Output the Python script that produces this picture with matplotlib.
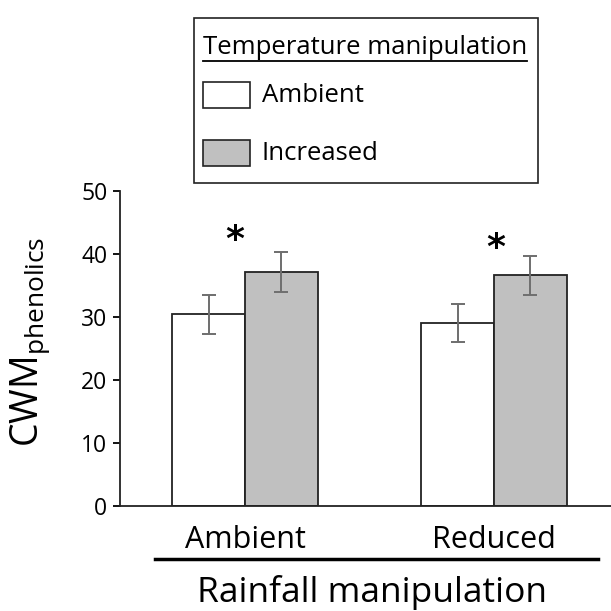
import matplotlib
matplotlib.use("Agg")
import matplotlib.pyplot as plt
from matplotlib.patches import Rectangle
import numpy as np

plt.rcParams['font.family'] = ['Open Sans', 'DejaVu Sans']
plt.rcParams['mathtext.fontset'] = 'custom'
plt.rcParams['mathtext.rm'] = 'Open Sans'
plt.rcParams['mathtext.it'] = 'Open Sans'

rain_groups = ["Ambient", "Reduced"]
temp_series = ["Ambient", "Increased"]
ambient_temp_vals = [30.4, 29.0]
ambient_temp_err = [3.1, 3.0]
increased_temp_vals = [37.1, 36.6]
increased_temp_err = [3.15, 3.15]
significant = [True, True]
yticks = [0, 10, 20, 30, 40, 50]

W = 611
fig = plt.figure(figsize=(6.11, 6.11), dpi=100)
ax = fig.add_axes([120 / W, (W - 506) / W, (W - 120) / W, (506 - 191) / W])

x = np.arange(len(rain_groups))
bw = 0.293
ecol = '#6e6e6e'
ax.bar(x - bw / 2, ambient_temp_vals, bw, color='white', edgecolor='#222222', linewidth=1.3, zorder=2)
ax.bar(x + bw / 2, increased_temp_vals, bw, color='#c0c0c0', edgecolor='#222222', linewidth=1.3, zorder=2)
ax.errorbar(x - bw / 2, ambient_temp_vals, yerr=ambient_temp_err, fmt='none', ecolor=ecol,
            elinewidth=1.4, capsize=5, capthick=1.4, zorder=3)
ax.errorbar(x + bw / 2, increased_temp_vals, yerr=increased_temp_err, fmt='none', ecolor=ecol,
            elinewidth=1.4, capsize=5, capthick=1.4, zorder=3)
star_dx = [-0.04, 0.005]
star_dy = [2.0, 1.2]
for i, s in enumerate(significant):
    if s:
        top = increased_temp_vals[i] + increased_temp_err[i]
        ax.text(x[i] + star_dx[i], top + star_dy[i], '*', ha='center', va='center', fontsize=26,
                fontweight='bold', family='DejaVu Sans')

ax.set_xlim((120 - 245) / 249, (611 - 245) / 249)
ax.set_ylim(0, 50)
ax.set_yticks(yticks)
ax.set_yticklabels([str(v) for v in yticks], fontsize=16.5)
ax.set_xticks(x)
ax.set_xticklabels(rain_groups, fontsize=22)
ax.tick_params(axis='x', length=0, pad=14)
ax.tick_params(axis='y', length=5, width=1.3, pad=4)
for s in ['top', 'right']:
    ax.spines[s].set_visible(False)
for s in ['left', 'bottom']:
    ax.spines[s].set_linewidth(1.3)
    ax.spines[s].set_color('#222222')

ax.set_ylabel(r'CWM$_{\mathregular{phenolics}}$', fontsize=27)
ax.yaxis.set_label_coords(-0.138, 0.52)

# rainfall underline and label
fig.add_artist(plt.Line2D([155 / W, 598 / W], [1 - 559 / W, 1 - 559 / W], color='black', linewidth=2.5))
fig.text(372 / W, 1 - 593 / W, 'Rainfall manipulation', ha='center', va='center', fontsize=25.5)

# legend box
fig.add_artist(Rectangle((194 / W, 1 - 183 / W), (538 - 194) / W, (183 - 18) / W,
                         transform=fig.transFigure, facecolor='white', edgecolor='#222222', linewidth=1.2))
fig.text(203 / W, 1 - 47 / W, 'Temperature manipulation', ha='left', va='center', fontsize=18.5)
fig.add_artist(plt.Line2D([203 / W, 527 / W], [1 - 61 / W, 1 - 61 / W], color='black', linewidth=1.3))
colors = ['white', '#c0c0c0']
ys = [95, 153]
for lab, c, yy in zip(temp_series, colors, ys):
    fig.add_artist(Rectangle((203 / W, 1 - (yy + 13) / W), 47 / W, 26 / W, transform=fig.transFigure,
                             facecolor=c, edgecolor='#222222', linewidth=1.2))
    fig.text(262 / W, 1 - yy / W, lab, ha='left', va='center', fontsize=18.5)

fig.savefig('out.png', dpi=100)
